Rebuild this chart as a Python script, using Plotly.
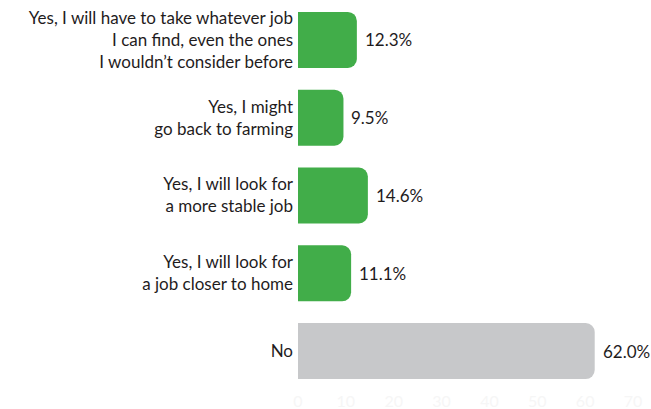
import plotly.graph_objects as go

categories = [
    "Yes, I will have to take whatever job<br>I can find, even the ones<br>I wouldn’t consider before",
    "Yes, I might<br>go back to farming",
    "Yes, I will look for<br>a more stable job",
    "Yes, I will look for<br>a job closer to home",
    "No",
]
values = [12.3, 9.5, 14.6, 11.1, 62.0]
colors = ["#41ad49", "#41ad49", "#41ad49", "#41ad49", "#c7c8ca"]
tick_vals = [0, 10, 20, 30, 40, 50, 60, 70]

font_family = "Lato"

fig = go.Figure(
    go.Bar(
        x=values,
        y=categories,
        orientation="h",
        marker=dict(color=colors, cornerradius=9, line=dict(width=0)),
        hoverinfo="skip",
    )
)

# value labels just past the end of each bar
for cat, val in zip(categories, values):
    fig.add_annotation(
        x=val, y=cat, text=f"{val:.1f}%", showarrow=False,
        xanchor="left", xshift=6,
        font=dict(family=font_family, size=17, color="#1f1c1d"),
    )

fig.update_layout(
    width=651, height=409,
    margin=dict(l=298, r=18, t=1, b=19),
    paper_bgcolor="white", plot_bgcolor="white",
    bargap=0.28,
    showlegend=False,
    font=dict(family=font_family, size=17, color="#1f1c1d"),
)
fig.update_xaxes(
    range=[0, 70], tickvals=tick_vals, showgrid=False, zeroline=False,
    showline=False, tickfont=dict(size=16, color="#f6f6f6"),
    automargin=False, fixedrange=True,
)
fig.update_yaxes(
    autorange="reversed", showgrid=False, zeroline=False, showline=False,
    ticks="", ticklabelstandoff=4, automargin=False, fixedrange=True,
)

fig.write_html("out.html")
